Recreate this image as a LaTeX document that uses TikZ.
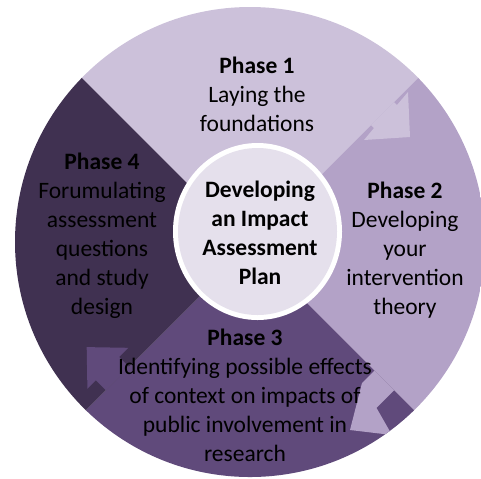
\documentclass[tikz,border=0pt]{standalone}
\usepackage{fontspec}
\setmainfont{Carlito}
\definecolor{phaseone}{HTML}{CCC1DA}
\definecolor{phasetwo}{HTML}{B3A2C7}
\definecolor{phasethree}{HTML}{604A7B}
\definecolor{phasefour}{HTML}{403151}
\definecolor{hub}{HTML}{E5E0EC}
\tikzset{
  phasetext/.style={align=center, text=black, inner sep=0pt, font=\fontsize{11.75}{14.5}\selectfont},
  hubtext/.style={phasetext, font=\fontsize{11.75}{14.5}\selectfont\bfseries}
}
\begin{document}
\begin{tikzpicture}[x=5pt,y=5pt]
	\useasboundingbox (0,0) rectangle (48.1,-47.8);
	\begin{scope}
		\clip (0,0) rectangle (48.1,-47.8);
		\clip (25,-24.2) circle (23.5);
		% quadrants
		\fill[phaseone] (25,-24.6) -- (-15,15.4) -- (65,15.4) -- cycle;
		\fill[phasetwo] (25,-24.6) -- (65,15.4) -- (65,-64.6) -- cycle;
		\fill[phasethree] (25,-24.6) -- (65,-64.6) -- (-15,-64.6) -- cycle;
		\fill[phasefour] (25,-24.6) -- (-15,-64.6) -- (-15,15.4) -- cycle;
		% arrow heads
		\fill[phaseone] (37.1,-12.5) -- (37.4,-12.8) -- (36.4,-14.0) -- (41.0,-13.7)
			-- (40.8,-9.2) -- (39.7,-10.5) -- (39.4,-10.2) -- cycle;
		\fill[phasetwo] (37.45,-37.05) -- (36.2,-38.3) -- (35.0,-43.0) -- (39.2,-43.5)
			-- (37.65,-40.79) -- (39.42,-39.02) -- cycle;
		\fill[phasethree] (12.91,-36.69) -- (11.92,-35.70) -- (12.84,-34.78) -- (8.67,-34.71)
			-- (8.74,-38.88) -- (9.59,-38.03) -- (10.58,-39.02) -- cycle;
	\end{scope}
	% centre
	\fill[white] (25.75,-23.15) ellipse [x radius=8.45, y radius=8.85];
	\fill[hub] (25.75,-23.15) ellipse [x radius=7.95, y radius=8.35];
	\node[phasetext] (one) at (25.7,-9.4) {\textbf{Phase 1}\\Laying the\\foundations};
	\node[phasetext] (two) at (40.5,-25.0) {\textbf{Phase 2}\\Developing\\your\\intervention\\theory};
	\node[phasetext] (three) at (24.5,-39.5) {\textbf{Phase 3}\\Identifying possible effects\\of context on impacts of\\public involvement in\\research};
	\node[phasetext] (four) at (10.2,-23.6) {\textbf{Phase 4}\\Forumulating\\assessment\\questions\\and study\\design};
	\node[hubtext] (plan) at (26.0,-23.3) {Developing\\an Impact\\Assessment\\Plan};
\end{tikzpicture}
\end{document}
